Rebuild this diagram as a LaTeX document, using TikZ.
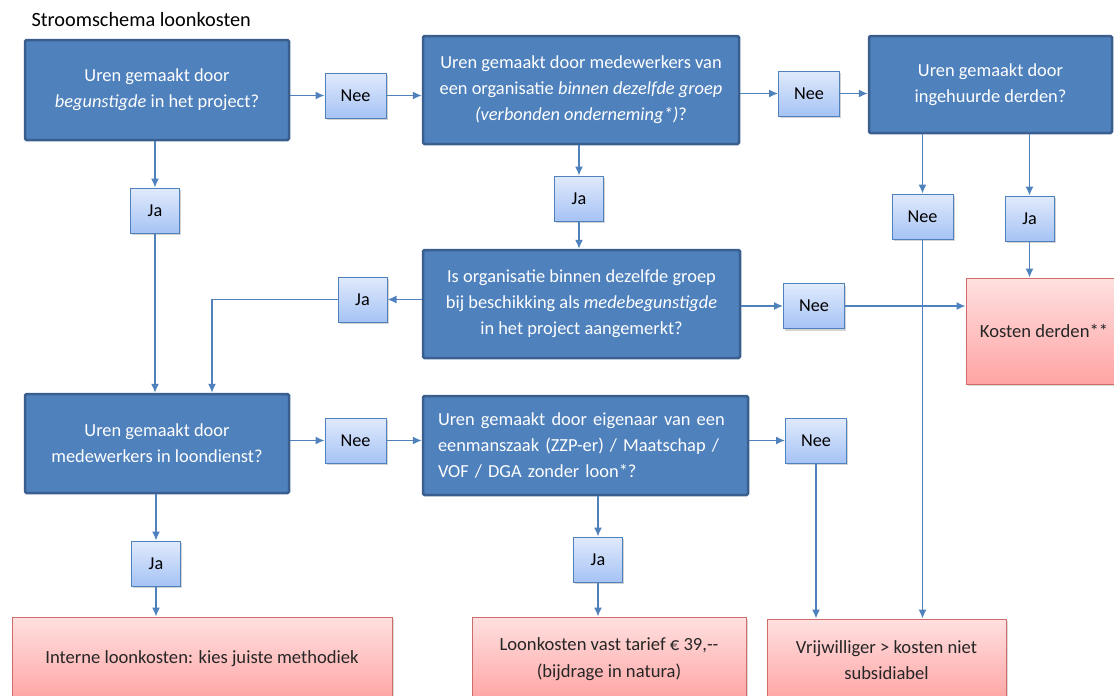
\documentclass[tikz,border=0pt]{standalone}
\usepackage{fontspec}
\setmainfont{Carlito}
\usetikzlibrary{arrows.meta,shadows}

\definecolor{vraagblauw}{HTML}{4F81BD}
\definecolor{vraagrand}{HTML}{3A5F8E}
\definecolor{keuzeboven}{HTML}{E0EAFC}
\definecolor{keuzeonder}{HTML}{A6C3F5}
\definecolor{uitkomstboven}{HTML}{FFE0E0}
\definecolor{uitkomstonder}{HTML}{FFA4A4}
\definecolor{uitkomstrand}{HTML}{CF6B69}

\tikzset{
	vraag/.style={draw=vraagrand, line width=2.5pt, fill=vraagblauw, rounded corners=1.5pt,
		text=white, align=center, inner sep=0pt, font=\fontsize{18.4}{26}\selectfont},
	keuze/.style={draw=vraagblauw, line width=1pt, top color=keuzeboven, bottom color=keuzeonder,
		minimum height=45pt, inner sep=0pt, font=\fontsize{18.2}{20}\selectfont,
		drop shadow={opacity=0.35, shadow xshift=1.5pt, shadow yshift=-2pt}},
	uitkomst/.style={draw=uitkomstrand, line width=1pt, top color=uitkomstboven, bottom color=uitkomstonder,
		text=black!85, align=center, inner sep=0pt, font=\fontsize{18.6}{26.5}\selectfont,
		drop shadow={opacity=0.3, shadow xshift=2pt, shadow yshift=-2pt}},
	pijl/.style={draw=vraagblauw, line width=1.4pt, -{Latex[length=9pt,width=8pt]}}
}

\begin{document}
\begin{tikzpicture}[x=1pt, y=-1pt]
		%%%%% START %%%%%
		\useasboundingbox (0, 0) rectangle (1114, 696);
		\clip (0, 0) rectangle (1114, 696);
		
		\node[anchor=west, font=\fontsize{20.3}{24}\selectfont] (titel) at (28, 20) {Stroomschema loonkosten};
		
		% vragen
		\node[vraag, minimum width=264pt, minimum height=100pt] (B1) at (157, 90) {Uren gemaakt door\\\textit{begunstigde} in het project?};
		\node[vraag, minimum width=316pt, minimum height=108pt] (B2) at (581, 90) {Uren gemaakt door medewerkers van\\een organisatie \textit{binnen dezelfde groep}\\\textit{(verbonden onderneming*)}?};
		\node[vraag, minimum width=243pt, minimum height=97pt] (B3) at (990.5, 84.5) {Uren gemaakt door\\ingehuurde derden?};
		\node[vraag, minimum width=317pt, minimum height=108pt] (B4) at (581.5, 304) {Is organisatie binnen dezelfde groep\\bij beschikking als \textit{medebegunstigde}\\in het project aangemerkt?};
		\node[vraag, minimum width=264pt, minimum height=99pt] (B5) at (157, 443.5) {Uren gemaakt door\\medewerkers in loondienst?};
		\node[vraag, minimum height=99pt, text width=295pt, inner xsep=15pt, align=left] (B6) at (585.5, 445.5) {Uren gemaakt door eigenaar van een\\eenmanszaak (ZZP-er) / Maatschap /\\VOF / DGA zonder loon*?};
		
		% uitkomsten
		\node[uitkomst, minimum width=156pt, minimum height=106pt] (P1) at (1044, 331) {Kosten derden**};
		\node[uitkomst, minimum width=380pt, minimum height=84pt] (P2) at (202, 659) {Interne loonkosten: kies juiste methodiek};
		\node[uitkomst, minimum width=274pt, minimum height=84pt] (P3) at (609, 659) {Loonkosten vast tarief € 39,-{}-\\(bijdrage in natura)};
		\node[uitkomst, minimum width=239pt, minimum height=82pt] (P4) at (886.5, 660) {Vrijwilliger > kosten niet\\subsidiabel};
		
		% ja / nee
		\node[keuze, minimum width=61pt] (N1) at (355.5, 95.5) {Nee};
		\node[keuze, minimum width=61pt] (N2) at (809, 93.5) {Nee};
		\node[keuze, minimum width=49pt] (J1) at (155, 210.5) {Ja};
		\node[keuze, minimum width=49pt] (J2) at (579, 198.5) {Ja};
		\node[keuze, minimum width=61pt] (N3) at (922.5, 216.5) {Nee};
		\node[keuze, minimum width=49pt] (J3) at (1029.5, 218.5) {Ja};
		\node[keuze, minimum width=49pt] (J4) at (362.5, 299.5) {Ja};
		\node[keuze, minimum width=61pt] (N4) at (814, 306) {Nee};
		\node[keuze, minimum width=61pt] (N5) at (355.5, 440.5) {Nee};
		\node[keuze, minimum width=61pt] (N6) at (816, 440.5) {Nee};
		\node[keuze, minimum width=49pt] (J5) at (156, 563.5) {Ja};
		\node[keuze, minimum width=49pt] (J6) at (598, 559.5) {Ja};
		
		\coordinate (knik) at (212, 299.5);
		
		% verbindingen
		\draw[pijl] (B1.east |- N1) -- (N1);
		\draw[pijl] (N1) -- (B2.west |- N1);
		\draw[pijl] (B2.east |- N2) -- (N2);
		\draw[pijl] (N2) -- (B3.west |- N2);
		\draw[pijl] (B1.south -| J1) -- (J1);
		\draw[pijl] (J1) -- (B5.north -| J1);
		\draw[pijl] (B2.south -| J2) -- (J2);
		\draw[pijl] (J2) -- (B4.north -| J2);
		\draw[pijl] (B3.south -| N3) -- (N3);
		\draw[pijl] (N3) -- (P4.north -| N3);
		\draw[pijl] (B3.south -| J3) -- (J3);
		\draw[pijl] (J3) -- (P1.north -| J3);
		\draw[pijl] (B4.west |- J4) -- (J4);
		\draw[pijl] (J4) -- (knik) -- (B5.north -| knik);
		\draw[pijl] (B4.east |- N4) -- (N4);
		\draw[pijl] (N4) -- (P1.west |- N4);
		\draw[pijl] (B5.east |- N5) -- (N5);
		\draw[pijl] (N5) -- (B6.west |- N5);
		\draw[pijl] (B6.east |- N6) -- (N6);
		\draw[pijl] (N6) -- (P4.north -| N6);
		\draw[pijl] (B5.south -| J5) -- (J5);
		\draw[pijl] (J5) -- (P2.north -| J5);
		\draw[pijl] (B6.south -| J6) -- (J6);
		\draw[pijl] (J6) -- (P3.north -| J6);
		
		%%%%% END %%%%%
\end{tikzpicture}
\end{document}
